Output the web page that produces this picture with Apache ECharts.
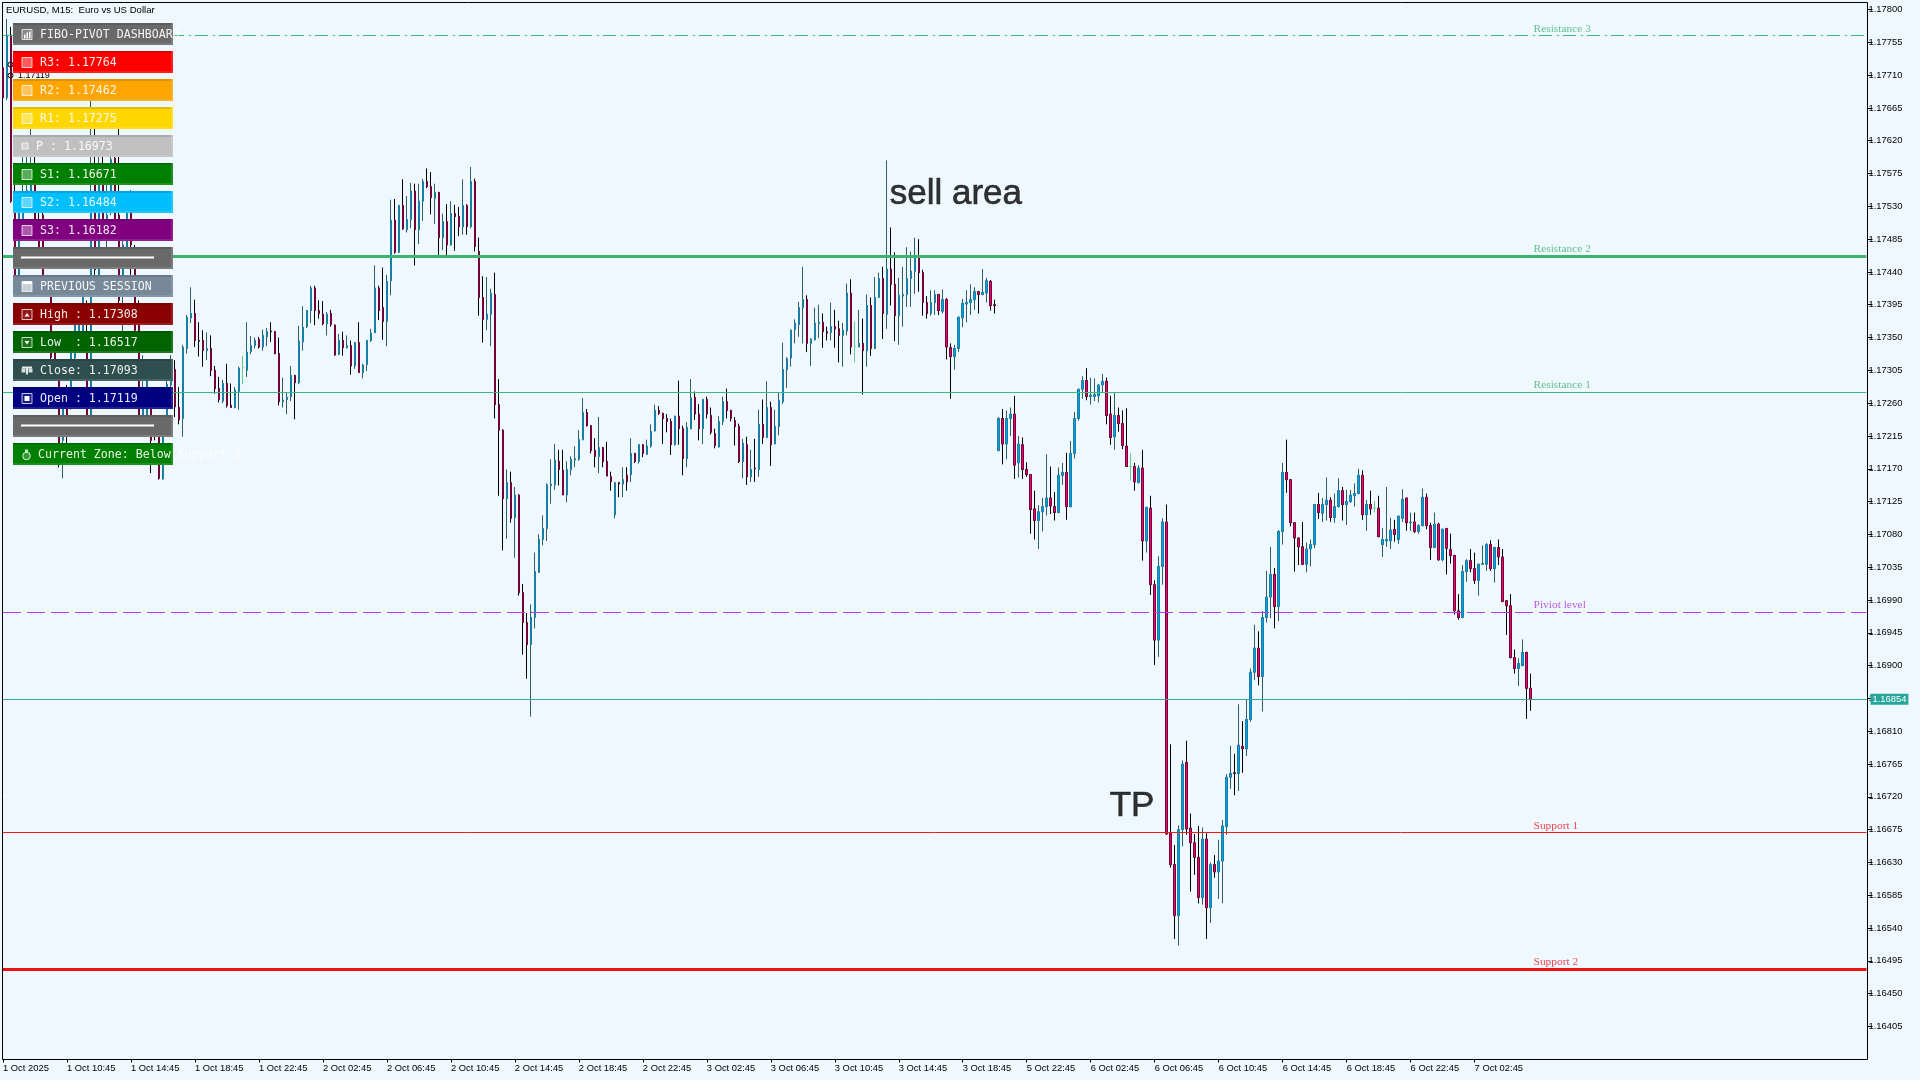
<!DOCTYPE html>
<html>
<head>
<meta charset="utf-8">
<style>html,body{margin:0;padding:0;background:#F0F8FF}#c{width:1920px;height:1080px}</style>
<script src="https://cdn.jsdelivr.net/npm/echarts@6/dist/echarts.min.js"></script>
</head>
<body>
<div id="c"></div>
<script>
// EURUSD M15 bars: [open, close, low, high] in 1e-5 price units
const barsOct1 = [
[117720,117679,117676,117731],[117679,117765,117676,117787],[117765,117537,117535,117776],[117532,117429,117415,117580],
[117429,117539,117422,117545],[117491,117539,117484,117600],[117532,117552,117525,117600],[117545,117580,117539,117637],
[117573,117504,117491,117600],[117504,117470,117463,117539],[117518,117422,117415,117525],[117432,117407,117406,117436],
[117407,117323,117319,117415],[117340,117294,117292,117347],[117292,117203,117172,117294],[117209,117264,117157,117271],
[117281,117237,117203,117285],[117271,117333,117251,117340],[117322,117371,117319,117381],[117340,117381,117337,117395],
[117347,117415,117344,117418],[117347,117244,117240,117401],[117244,117532,117237,117676],[117587,117443,117436,117637],
[117436,117559,117429,117600],[117587,117511,117508,117600],[117491,117518,117473,117566],[117532,117594,117518,117600],
[117596,117504,117491,117600],[117518,117401,117395,117637],[117415,117477,117347,117491],[117470,117532,117463,117539],
[117539,117477,117436,117552],[117454,117360,117353,117477],[117367,117244,117237,117401],[117244,117278,117240,117326],
[117244,117305,117237,117319],[117257,117209,117164,117271],[117237,117215,117209,117244],[117226,117157,117155,117237],
[117156,117237,117155,117244],[117237,117286,117223,117294],[117285,117305,117281,117326],[117306,117255,117241,117319],
[117254,117237,117231,117282],[117239,117337,117214,117340],[117335,117378,117328,117381],[117377,117383,117370,117419],
[117383,117346,117337,117402],[117346,117345,117324,117371],[117346,117332,117310,117360],[117332,117335,117319,117357],
[117335,117305,117297,117353],[117305,117280,117273,117311],[117280,117265,117261,117296],[117263,117287,117260,117292],
[117287,117257,117254,117314],[117257,117254,117254,117287],[117254,117278,117253,117282],[117276,117308,117251,117310],
[117309,117309,117286,117325],[117305,117330,117296,117371],[117331,117339,117327,117352],[117339,117346,117335,117350],
[117348,117337,117335,117351],[117337,117353,117332,117361],[117351,117358,117338,117363],[117359,117358,117344,117371],
[117358,117328,117327,117359]
];
const barsOct2 = [
[117328,117262,117257,117350],[117262,117264,117254,117295],[117265,117268,117245,117274],[117269,117298,117263,117311],
[117298,117288,117238,117299],[117288,117345,117286,117366],[117344,117364,117332,117393],[117365,117387,117363,117388],
[117387,117418,117370,117421],[117418,117387,117367,117421],[117387,117383,117376,117401],[117382,117369,117367,117400],
[117369,117382,117353,117385],[117383,117368,117365,117388],[117367,117326,117325,117368],[117327,117346,117326,117355],
[117346,117336,117325,117358],[117336,117339,117335,117353],[117339,117311,117299,117346],[117311,117343,117307,117344],
[117343,117302,117302,117371],[117302,117312,117294,117314],[117313,117346,117304,117347],[117346,117356,117344,117362],
[117357,117418,117356,117449],[117418,117387,117374,117421],[117391,117372,117347,117446],[117372,117427,117338,117436],
[117428,117511,117408,117539],[117511,117467,117465,117540],[117467,117531,117466,117532],[117531,117499,117498,117567],
[117498,117512,117494,117544],[117512,117551,117500,117562],[117551,117498,117449,117561],[117498,117537,117478,117561],
[117537,117564,117510,117568],[117564,117557,117555,117582],[117557,117542,117519,117577],[117541,117549,117506,117561],
[117549,117487,117461,117550],[117487,117509,117470,117520],[117509,117477,117461,117533],[117477,117520,117476,117537],
[117520,117516,117469,117532],[117516,117502,117489,117529],[117502,117531,117491,117567],[117531,117502,117491,117533],
[117502,117564,117500,117584],[117564,117475,117468,117568],[117468,117405,117380,117487],[117405,117375,117343,117434],
[117375,117382,117360,117433],[117382,117411,117338,117417],[117409,117258,117239,117439],[117258,117223,117133,117293],
[117223,117129,117058,117224],[117129,117151,117074,117169],[117151,117102,117096,117166],[117103,117134,117048,117145],
[117134,117000,116996,117135],[117000,116959,116915,117012],[116959,116929,116882,116972],[116929,116966,116830,116984],
[116966,117029,116951,117055],[117028,117073,117027,117080],[117073,117088,117065,117106],[117088,117148,117071,117150],
[117147,117149,117122,117183],[117148,117182,117141,117204],[117180,117169,117147,117196],[117168,117134,117134,117196],
[117134,117169,117124,117180],[117169,117183,117161,117187],[117182,117184,117172,117201],[117183,117210,117181,117223],
[117210,117247,117209,117267],[117247,117229,117228,117252],[117229,117195,117191,117230],[117195,117187,117172,117212],
[117187,117199,117164,117241],[117199,117180,117172,117200],[117180,117160,117160,117207],[117159,117152,117140,117166],
[117107,117151,117102,117152],[117151,117149,117131,117152],[117149,117155,117131,117172],[117161,117152,117140,117172],
[117162,117191,117152,117212],[117191,117180,117178,117192],[117180,117203,117177,117204],[117203,117191,117186,117204],
[117190,117201,117189,117210],[117201,117221,117199,117231],[117222,117250,117221,117258],[117250,117246,117244,117256]
];
const barsOct3 = [
[117246,117239,117204,117247],[117239,117235,117220,117245],[117235,117203,117189,117239],[117203,117242,117202,117243],
[117242,117225,117203,117291],[117225,117184,117161,117229],[117184,117227,117172,117234],[117225,117267,117224,117293],
[117268,117245,117237,117276],[117245,117225,117209,117259],[117225,117265,117204,117266],[117265,117245,117239,117269],
[117243,117220,117217,117254],[117218,117202,117198,117225],[117200,117235,117199,117242],[117235,117262,117230,117269],
[117262,117250,117239,117280],[117250,117239,117235,117251],[117236,117228,117202,117241],[117228,117180,117178,117232],
[117180,117205,117157,117211],[117203,117159,117148,117214],[117159,117169,117152,117196],[117171,117170,117152,117211],
[117169,117231,117159,117251],[117231,117213,117204,117265],[117213,117254,117212,117290],[117254,117203,117174,117262],
[117204,117228,117204,117251],[117228,117264,117216,117274],[117262,117306,117259,117343],[117306,117321,117281,117323],
[117322,117360,117310,117361],[117361,117370,117342,117375],[117368,117391,117351,117399],[117391,117402,117342,117447],
[117402,117342,117330,117408],[117342,117348,117311,117349],[117347,117370,117346,117391],[117369,117371,117349,117395],
[117371,117358,117336,117383],[117358,117356,117346,117365],[117357,117365,117346,117398],[117365,117362,117336,117388],
[117362,117353,117316,117373],[117353,117360,117310,117370],[117359,117411,117353,117424],[117411,117337,117327,117430],
[117338,117338,117316,117372],[117337,117342,117337,117388],[117342,117332,117272,117376],[117332,117394,117310,117409],
[117394,117335,117325,117405],[117335,117405,117334,117433],[117405,117431,117404,117439],[117431,117383,117348,117447],
[117382,117444,117362,117593],[117444,117423,117394,117501],[117423,117380,117345,117467],[117380,117408,117340,117432],
[117407,117409,117365,117447],[117409,117431,117392,117474],[117431,117441,117392,117468],[117441,117461,117410,117487],
[117461,117439,117413,117485],[117439,117398,117380,117443],[117398,117383,117376,117407],[117383,117398,117380,117415],
[117398,117409,117381,117415],[117409,117387,117381,117410],[117386,117402,117383,117416],[117402,117337,117320,117404],
[117336,117324,117266,117342],[117324,117335,117306,117340],[117335,117378,117330,117379],[117377,117397,117364,117403],
[117396,117398,117371,117415],[117398,117402,117381,117423],[117402,117413,117388,117419],[117413,117409,117383,117414],
[117409,117412,117408,117444],[117411,117428,117398,117432],[117427,117394,117387,117429],[117395,117394,117383,117402]
];
const barsOct5 = [
[117195,117239,117194,117241],[117239,117204,117176,117252],[117204,117239,117183,117250],[117239,117245,117215,117254],
[117245,117175,117156,117270],[117178,117204,117158,117215],[117203,117169,117156,117213],[117169,117162,117159,117179],
[117162,117114,117081,117163],[117115,117099,117073,117140],[117099,117111,117060,117120],[117111,117118,117084,117130]
];
const barsOct6 = [
[117118,117130,117106,117190],[117130,117119,117108,117173],[117118,117110,117099,117138],[117110,117161,117109,117172],
[117161,117165,117148,117178],[117165,117118,117100,117192],[117118,117191,117117,117208],[117191,117239,117184,117248],
[117239,117279,117236,117280],[117279,117291,117266,117297],[117291,117269,117264,117308],[117269,117271,117258,117295],
[117269,117272,117263,117294],[117270,117285,117261,117286],[117285,117290,117275,117300],[117290,117243,117231,117295],
[117245,117213,117203,117270],[117214,117243,117196,117275],[117243,117232,117221,117254],[117232,117202,117197,117250],
[117201,117173,117173,117253],[117173,117173,117154,117191],[117173,117152,117140,117178],[117151,117171,117150,117175],
[117171,117071,117044,117196],[117071,117117,117055,117118],[117116,117011,116997,117133],[117011,116935,116901,117017],
[116935,117036,116912,117050],[117036,117097,117011,117102],[117097,116669,116668,117121],[116670,116627,116623,116792],
[116627,116557,116525,116654],[116557,116675,116516,116681],[116675,116765,116652,116770],[116767,116676,116668,116797],
[116677,116657,116590,116697],[116657,116637,116613,116669],[116637,116582,116574,116680],[116582,116662,116572,116678],
[116662,116568,116525,116670],[116568,116627,116547,116630],[116627,116617,116609,116640],[116617,116632,116580,116661],
[116632,116680,116574,116688],[116679,116747,116668,116751],[116747,116752,116731,116790],[116753,116752,116722,116779],
[116752,116791,116728,116847],[116789,116786,116753,116824],[116786,116826,116776,116854],[116826,116891,116823,116896],
[116891,116924,116880,116956],[116924,116885,116873,116947],[116885,116966,116837,116975],[116966,116994,116959,117030],
[116994,117025,116965,117063],[117025,116981,116951,117034],[116981,117084,116961,117086],[117084,117165,117066,117178],
[117165,117155,117137,117210],[117155,117096,117091,117156],[117096,117075,117029,117097],[117075,117063,117038,117076],
[117063,117039,117038,117097],[117039,117060,117028,117069],[117060,117066,117036,117073],[117066,117121,117061,117122],
[117121,117110,117101,117137],[117109,117121,117097,117130],[117121,117127,117099,117158],[117127,117103,117097,117131],
[117103,117118,117096,117136],[117118,117140,117117,117157],[117140,117121,117099,117145],[117121,117125,117093,117141],
[117125,117134,117123,117141],[117133,117136,117118,117150],[117136,117161,117135,117170],[117161,117107,117100,117168],
[117107,117121,117085,117127],[117121,117115,117107,117140],[117116,117116,117110,117126],[117116,117077,117076,117133],
[117066,117073,117049,117089],[117071,117073,117063,117145],[117071,117086,117060,117103],[117087,117080,117070,117100],
[117073,117105,117067,117106],[117102,117128,117097,117142],[117130,117096,117085,117130],[117096,117097,117085,117110],
[117097,117084,117082,117110],[117084,117092,117081,117094],[117092,117131,117091,117143],[117131,117092,117087,117136]
];
const barsOct7 = [
[117092,117062,117045,117096],[117062,117094,117061,117110],[117094,117045,117044,117096],[117045,117087,117043,117088],
[117088,117061,117025,117089],[117059,117051,117040,117081],[117051,116975,116970,117052],[116975,116966,116963,116998],
[116966,117029,116965,117038],[117029,117044,117015,117046],[117044,117033,117028,117060],[117033,117017,117012,117055],
[117017,117039,116996,117040],[117039,117040,117038,117065],[117039,117066,117030,117068],[117066,117033,117030,117072],
[117033,117062,117014,117063],[117062,117049,117038,117073],[117049,116988,116987,117060],[116989,116982,116942,116990],
[116982,116911,116910,116998],[116911,116896,116889,116922],[116896,116903,116872,116910],[116900,116918,116899,116936],
[116918,116869,116827,116919],[116869,116854,116838,116889]
];

const timeLabels = ['1 Oct 2025','1 Oct 10:45','1 Oct 14:45','1 Oct 18:45','1 Oct 22:45','2 Oct 02:45','2 Oct 06:45','2 Oct 10:45','2 Oct 14:45','2 Oct 18:45','2 Oct 22:45','3 Oct 02:45','3 Oct 06:45','3 Oct 10:45','3 Oct 14:45','3 Oct 18:45','5 Oct 22:45','6 Oct 02:45','6 Oct 06:45','6 Oct 10:45','6 Oct 14:45','6 Oct 18:45','6 Oct 22:45','7 Oct 02:45'];
const priceTicks = ['1.17800','1.17755','1.17710','1.17665','1.17620','1.17575','1.17530','1.17485','1.17440','1.17395','1.17350','1.17305','1.17260','1.17215','1.17170','1.17125','1.17080','1.17035','1.16990','1.16945','1.16900','1.16855','1.16810','1.16765','1.16720','1.16675','1.16630','1.16585','1.16540','1.16495','1.16450','1.16405'];
const levelNames  = ['Resistance 3','Resistance 2','Resistance 1','Piviot level','Support 1','Support 2'];
const levelPrices = [1.17764,1.17462,1.17275,1.16973,1.16671,1.16484];
const lastPrice = 1.16854;
const notes = [['sell area',222,1.17547],['TP',277,1.16707]];
const sessionHigh='1.17308', sessionLow='1.16517', sessionClose='1.17093', sessionOpen='1.17119';

const bars = [].concat(barsOct1,barsOct2,barsOct3,barsOct5,barsOct6,barsOct7).map(b=>b.map(v=>v/1e5));
const BAND = 16, SLOTS = 467;
const categories = Array.from({length:SLOTS},(_,i)=> i%BAND===0 ? (timeLabels[i/BAND]||'') : '');
const showTick = i => i%BAND===0 && !!timeLabels[i/BAND];

const GREEN='#3cb878', PURPLE='#ae3ae8', RED='#f01c1c';
const levelStyle = [
 {color:GREEN,width:1,type:[13,5,2,4]},{color:'#3cb371',width:3,type:'solid'},{color:GREEN,width:1,type:'solid'},
 {color:PURPLE,width:1,type:[18,6]},{color:RED,width:1,type:'solid'},{color:'#ee1111',width:3,type:'solid'}];
const levelText = ['#3cb371','#3cb371','#3cb371','#a832e0','#f01818','#f01818'];

const mix=(hex,t,amt)=>{const n=parseInt(hex.slice(1),16),c=[n>>16,(n>>8)&255,n&255];return 'rgb('+c.map(v=>Math.round(v+(t-v)*amt)).join(',')+')';};
const rows=[
 ['#696969','FIBO-PIVOT DASHBOARD',40,'bars'],
 ['#ff0000','R3: 1.17764',40,'box'],['#ffa500','R2: 1.17462',40,'box'],['#ffd700','R1: 1.17275',40,'box'],
 ['#c0c0c0','P : 1.16973',36,'small'],['#008000','S1: 1.16671',40,'box'],['#00bfff','S2: 1.16484',40,'box'],['#800080','S3: 1.16182',40,'box'],
 ['#696969','',0,'sep'],
 ['#778899','PREVIOUS SESSION',40,'cal'],
 ['#8b0000','High : '+sessionHigh,40,'up'],['#006400','Low  : '+sessionLow,40,'down'],
 ['#2f4f4f','Close: '+sessionClose,40,'scale'],['#000080','Open : '+sessionOpen,40,'dot'],
 ['#696969','',0,'sep'],
 ['#008000','Current Zone: Below Support 3',38,'bag']];
const gfx=[];
const R=(x,y,w,h,fill,extra)=>gfx.push(Object.assign({type:'rect',shape:{x,y,width:w,height:h},style:{fill},silent:true,z:50},extra||{}));
// chart frame, one pixel wider than the exact 4 px-per-bar plot
gfx.push({type:'rect',z:1,silent:true,shape:{x:2.5,y:2.5,width:1865,height:1057},style:{fill:'none',stroke:'#000',lineWidth:1}});
// remnants of another indicator peeking out behind the dashboard
gfx.push({type:'text',z:40,silent:true,style:{text:'1.17119',x:18,y:76,fill:'#000',font:'9px "Liberation Sans"',verticalAlign:'middle'}});
gfx.push({type:'circle',z:40,silent:true,shape:{cx:10.5,cy:75.5,r:2.5},style:{fill:'none',stroke:'#000'}});
gfx.push({type:'circle',z:40,silent:true,shape:{cx:10.5,cy:64.5,r:2.5},style:{fill:'none',stroke:'#000'}});
gfx.push({type:'line',z:40,silent:true,shape:{x1:18,y1:44.5,x2:104,y2:44.5},style:{stroke:'#000',lineDash:[2,2]}});
rows.forEach((r,k)=>{
  const y=23+28*k,c=r[0];
  R(13,y,160,22,c);
  R(13,y,160,2,mix(c,0,.12));
  R(13,y+20,160,2,mix(c,255,.12));
  R(171,y,2,22,mix(c,255,.12));
  const ix=22,iy=y+6.5;
  const box=(a)=>R(ix,iy,10,10,'rgba(255,255,255,'+(a||.35)+')',{style:{fill:'rgba(255,255,255,'+(a||.35)+')',stroke:'rgba(255,255,255,.75)',lineWidth:1}});
  const sh=(pts)=>gfx.push({type:'polygon',z:52,silent:true,shape:{points:pts},style:{fill:'#fff'}});
  switch(r[3]){
    case 'box': box(); break;
    case 'small': R(ix,y+8,6,6,'rgba(255,255,255,.3)',{style:{fill:'rgba(255,255,255,.3)',stroke:'rgba(255,255,255,.8)',lineWidth:1}}); break;
    case 'bars': box(.2); R(ix+2,iy+5,1.5,4,'#fff',{z:52}); R(ix+4.5,iy+3,1.5,6,'#fff',{z:52}); R(ix+7,iy+2,1.5,7,'#fff',{z:52}); break;
    case 'cal': box(.6); R(ix,iy,10,2.5,'#fff',{z:52}); break;
    case 'up': box(.1); sh([[ix+2.5,iy+7],[ix+7.5,iy+7],[ix+5,iy+3.5]]); break;
    case 'down': box(.1); sh([[ix+2.5,iy+3.5],[ix+7.5,iy+3.5],[ix+5,iy+7]]); break;
    case 'dot': box(.1); R(ix+2.5,iy+2.5,5,5,'#fff',{z:52}); break;
    case 'scale': R(ix,iy+1,10,2,'rgba(255,255,255,.85)',{z:52}); R(ix-.5,iy+3,4,4,'rgba(255,255,255,.8)',{z:52}); R(ix+6.5,iy+3,4,4,'rgba(255,255,255,.8)',{z:52}); R(ix+4,iy+2,2,7,'rgba(255,255,255,.85)',{z:52}); break;
    case 'bag': gfx.push({type:'circle',z:52,silent:true,shape:{cx:ix+4.5,cy:iy+6.5,r:3.8},style:{fill:'rgba(255,255,255,.2)',stroke:'rgba(255,255,255,.85)'}}); R(ix+3,iy,3,2.5,'rgba(255,255,255,.8)',{z:52}); break;
    case 'sep': R(21,y+9.5,133,2,'#fff',{z:52}); break;
  }
  if(r[1]) gfx.push({type:'text',z:53,silent:true,style:{text:r[1],x:r[2],y:y+11.5,fill:'rgba(255,255,255,.92)',font:'11.6px "DejaVu Sans Mono"',verticalAlign:'middle'}});
});

const NONE='rgba(0,0,0,0)';
const chart=echarts.init(document.getElementById('c'),null,{renderer:'canvas',width:1920,height:1080});
chart.setOption({
  animation:false,
  backgroundColor:'#F0F8FF',
  title:{text:'EURUSD, M15:  Euro vs US Dollar',left:6,top:5,textStyle:{fontFamily:'Liberation Sans',fontSize:9.6,fontWeight:'normal',color:'#000'},padding:0},
  grid:{left:2.5,top:2.5,width:1864,height:1057,show:false},
  xAxis:{type:'category',data:categories,boundaryGap:false,
    axisLine:{show:true,lineStyle:{color:'#000'}},
    axisTick:{show:true,length:3,interval:showTick,lineStyle:{color:'#000'}},
    axisLabel:{show:true,interval:showTick,align:'left',margin:4,color:'#000',fontFamily:'Liberation Sans',fontSize:9.4,hideOverlap:false},
    splitLine:{show:false}},
  yAxis:{type:'value',position:'right',offset:1,min:1.163597,max:1.178096,
    axisLine:{show:false},
    axisTick:{show:true,length:5,lineStyle:{color:'#000'},customValues:priceTicks.map(Number)},
    axisLabel:{show:true,margin:1,color:'#000',fontFamily:'Liberation Sans',fontSize:9.4,customValues:priceTicks.map(Number),formatter:v=>v.toFixed(5)},
    splitLine:{show:false}},
  graphic:{elements:gfx},
  series:[
    {type:'line',data:[],z:2,silent:true,symbol:'none',
     markLine:{silent:true,symbol:'none',animation:false,precision:5,label:{show:false},
       data:levelPrices.map((p,i)=>({yAxis:p,lineStyle:levelStyle[i],label:{show:false}})).concat([
        {yAxis:lastPrice,lineStyle:{color:'#3aa598',width:1,type:'solid'},
         label:{show:true,position:'end',distance:4,formatter:lastPrice.toFixed(5),color:'#fff',backgroundColor:'#26a69a',padding:[1,2,1,2],fontFamily:'Liberation Sans',fontSize:9.4}}])}},
    {type:'candlestick',data:bars,barWidth:2,clip:false,z:3,silent:true,
     itemStyle:{color:'#00a0e4',color0:'#ea006e',borderColor:'#2f5f66',borderColor0:'#000000',borderColorDoji:'#62cc8c',borderWidth:1}},
    {type:'candlestick',data:bars,barWidth:2,clip:false,z:3,silent:true,
     itemStyle:{color:'#00a0e4',color0:'#ea006e',borderColor:NONE,borderColor0:NONE,borderColorDoji:NONE,borderWidth:0}},
    {type:'scatter',symbolSize:0,silent:true,z:4,clip:false,
     data:levelNames.map((n,i)=>({name:n,value:[383,levelPrices[i]],label:{color:levelText[i]}})),
     label:{show:true,position:[0,0],offset:[-1,-7],align:'left',verticalAlign:'middle',formatter:'{b}',fontFamily:'Liberation Serif',fontSize:11.4}},
    {type:'scatter',symbolSize:0,silent:true,z:5,clip:false,
     data:notes.map(n=>({name:n[0],value:[n[1],n[2]]})),
     label:{show:true,position:[0,0],offset:[-1,0],align:'left',verticalAlign:'middle',formatter:'{b}',color:'#000',textBorderColor:'#000',textBorderWidth:0.6,fontFamily:'Liberation Sans',fontSize:35}}
  ]
});
</script>
</body>
</html>
